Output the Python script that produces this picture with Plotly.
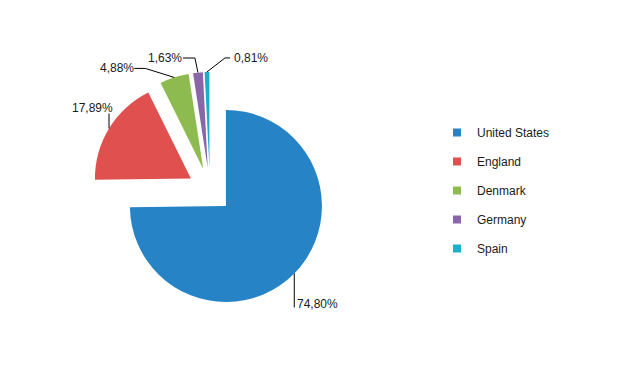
import math
import plotly.graph_objects as go

# ---- data ----
countries = ["United States", "England", "Denmark", "Germany", "Spain"]
shares = [74.80, 17.89, 4.88, 1.63, 0.81]
colors = ["#2683C6", "#E0504E", "#8DBB4F", "#8A65A8", "#1AB0CC"]

# ---- layout / style ----
W, H = 644, 388
PULL = 0.233
DOM_X = [0.1422, 0.5100]
DOM_Y = [0.2044, 0.8147]
FONT = "Liberation Sans, Arial, sans-serif"
TXT = "#1a1a1a"

# leader line style: (elbow offset, end offset, label offset, anchor) in px relative to slice edge
LEADERS = [
    ((0, 34), (0, 34), (1, 31), "left"),
    ((0, -15), (0, -15), (6, -20.5), "right"),
    ((-29, -9), (-40, -9), (-38, -9), "right"),
    ((-3, -14.5), (-15, -14.5), (-14, -14.5), "right"),
    ((18, -14), (23, -14), (25, -14), "left"),
]

fig = go.Figure()
fig.add_trace(go.Pie(
    labels=countries, values=shares, sort=False, direction="clockwise",
    rotation=0, pull=[PULL] * len(shares), textinfo="none",
    marker=dict(colors=colors, line=dict(width=0)),
    domain=dict(x=DOM_X, y=DOM_Y), showlegend=False,
))

for name, col in zip(countries, colors):
    fig.add_trace(go.Scatter(
        x=[None], y=[None], mode="markers", name=name,
        marker=dict(symbol="square", size=8, color=col),
        legendgroup=name,
    ))

# geometry of the pie as plotly computes it
bw = W * (DOM_X[1] - DOM_X[0])
bh = H * (DOM_Y[1] - DOM_Y[0])
r = min(bw, bh) / 2 / (1 + PULL)
cx = W * (DOM_X[0] + DOM_X[1]) / 2
cy = H * (1 - DOM_Y[0]) - bh / 2
total = sum(shares)

def px2paper(x, y):
    return x / W, 1 - y / H

shapes, annotations = [], []
cum = 0.0
for v, (elb, end, lab, anchor) in zip(shares, LEADERS):
    mid = (cum + v / 2) / total * 2 * math.pi
    cum += v
    ex = cx + r * (1 + PULL) * math.sin(mid)
    ey = cy - r * (1 + PULL) * math.cos(mid)
    pts = [(ex, ey), (ex + elb[0], ey + elb[1]), (ex + end[0], ey + end[1])]
    pp = [px2paper(*p) for p in pts]
    path = "M {},{} L {},{} L {},{}".format(*[c for p in pp for c in p])
    shapes.append(dict(type="path", path=path, xref="paper", yref="paper",
                       line=dict(color="#000000", width=1)))
    lx, ly = px2paper(ex + lab[0], ey + lab[1])
    annotations.append(dict(
        x=lx, y=ly, xref="paper", yref="paper", showarrow=False,
        text=f"{v:.2f}".replace(".", ",") + "%", xanchor=anchor, yanchor="middle",
        font=dict(family=FONT, size=12, color=TXT),
    ))

fig.update_layout(
    width=W, height=H, margin=dict(l=0, r=0, t=0, b=0),
    paper_bgcolor="white", plot_bgcolor="white",
    font=dict(family=FONT, size=12, color=TXT),
    xaxis=dict(visible=False), yaxis=dict(visible=False),
    shapes=shapes, annotations=annotations,
    legend=dict(x=437 / W, y=1 - 118 / H, xanchor="left", yanchor="top",
                tracegroupgap=10, font=dict(family=FONT, size=12, color=TXT),
                bgcolor="rgba(0,0,0,0)"),
)

fig.write_html("out.html", config={"displayModeBar": False},
               post_script="document.body.style.margin='0';")
